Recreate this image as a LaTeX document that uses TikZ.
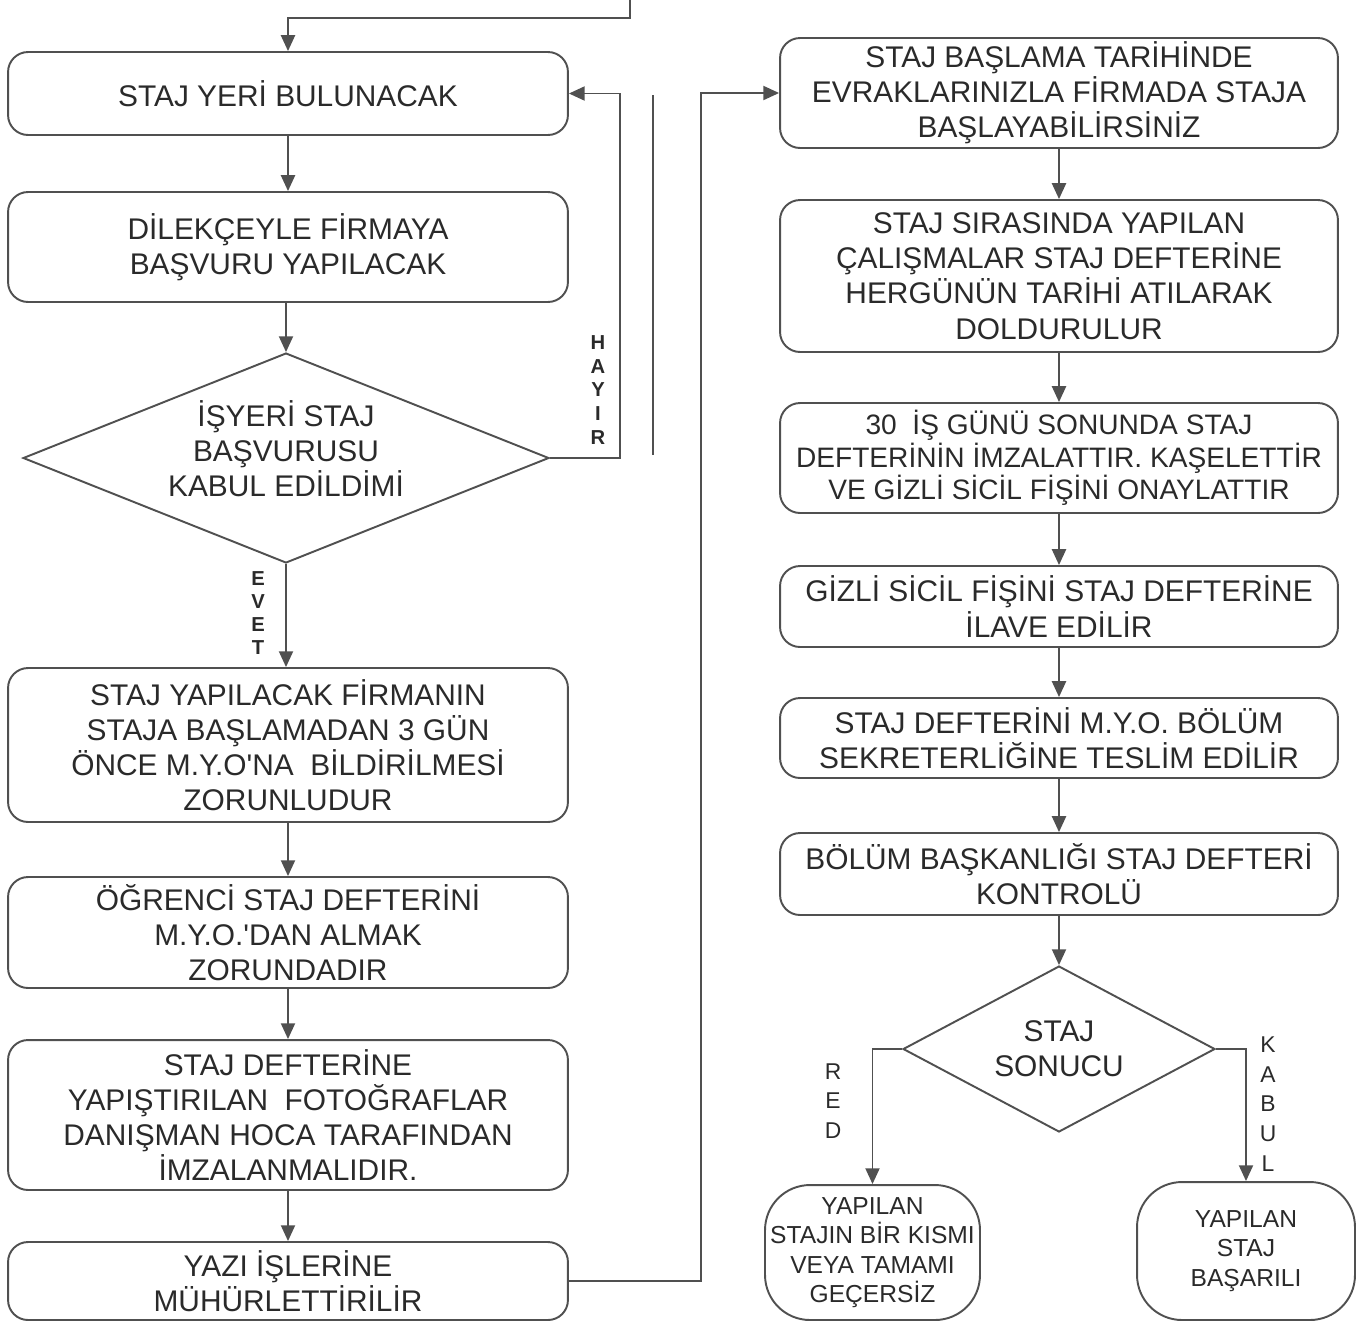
\documentclass[tikz,border=0pt]{standalone}
\usepackage{fontspec}
\setmainfont{Liberation Sans}[Ligatures=TeXOff]
\usetikzlibrary{shapes.geometric,arrows.meta}
\definecolor{linegray}{HTML}{505050}
\definecolor{inkgray}{HTML}{2A2A2A}
\tikzset{
  box/.style={draw=linegray, line width=1.1pt, rounded corners=0.4cm, align=center,
    text=inkgray, inner sep=0pt, font=\fontsize{17}{20}\selectfont},
  endbox/.style={box, rounded corners=0.9cm, font=\fontsize{14}{16.8}\selectfont},
  decision/.style={draw=linegray, line width=1.1pt, shape=diamond, shape aspect=2.5,
    align=center, text=inkgray, inner sep=0pt, font=\fontsize{17}{20}\selectfont},
  dtext/.style={align=center, text=inkgray, inner sep=0pt, font=\fontsize{17}{20}\selectfont},
  arr/.style={draw=linegray, line width=1.1pt, -{Triangle[length=9pt,width=8pt]}},
  ln/.style={draw=linegray, line width=1.1pt},
  vlbl/.style={align=center, text=inkgray, inner sep=0pt}
}
\begin{document}
\begin{tikzpicture}[x=0.02cm,y=-0.02cm]
        \useasboundingbox (0,0) rectangle (1362,1323);
        \coordinate (top)   at (630,0);
        \coordinate (sepA)  at (653,95);
        \coordinate (sepB)  at (653,455);
        % left column
        \node[box, minimum width=11.2cm, minimum height=1.66cm] (yer)     at (288,93.5) {STAJ YERİ BULUNACAK};
        \node[box, minimum width=11.2cm, minimum height=2.2cm]  (dilekce) at (288,247) {DİLEKÇEYLE FİRMAYA\\BAŞVURU YAPILACAK};
        \node[decision, minimum width=10.52cm, minimum height=4.2cm] (kabul) at (286,458) {};
        \node[dtext] (kabulT) at (286,449) {İŞYERİ STAJ\\BAŞVURUSU\\KABUL EDİLDİMİ};
        \node[box, minimum width=11.2cm, minimum height=3.08cm] (bildir)  at (288,745) {STAJ YAPILACAK FİRMANIN\\STAJA BAŞLAMADAN 3 GÜN\\ÖNCE M.Y.O'NA\ \ BİLDİRİLMESİ\\ZORUNLUDUR};
        \node[box, minimum width=11.2cm, minimum height=2.22cm] (defter)  at (288,932.5) {ÖĞRENCİ STAJ DEFTERİNİ\\M.Y.O.'DAN ALMAK\\ZORUNDADIR};
        \node[box, minimum width=11.2cm, minimum height=3.0cm]  (foto)    at (288,1115) {STAJ DEFTERİNE\\YAPIŞTIRILAN\ \ FOTOĞRAFLAR\\DANIŞMAN HOCA TARAFINDAN\\İMZALANMALIDIR.};
        \node[box, minimum width=11.2cm, minimum height=1.56cm] (muhur)   at (288,1281) {YAZI İŞLERİNE\\MÜHÜRLETTİRİLİR};
        % right column
        \node[box, minimum width=11.16cm, minimum height=2.2cm]  (basla)  at (1059,93) {STAJ BAŞLAMA TARİHİNDE\\EVRAKLARINIZLA FİRMADA STAJA\\BAŞLAYABİLİRSİNİZ};
        \node[box, minimum width=11.16cm, minimum height=3.04cm] (calis)  at (1059,276) {STAJ SIRASINDA YAPILAN\\ÇALIŞMALAR STAJ DEFTERİNE\\HERGÜNÜN TARİHİ ATILARAK\\DOLDURULUR};
        \node[box, font=\fontsize{16}{18.5}\selectfont, minimum width=11.16cm, minimum height=2.2cm] (imza) at (1059,458) {30\ \ İŞ GÜNÜ SONUNDA STAJ\\DEFTERİNİN İMZALATTIR. KAŞELETTİR\\VE GİZLİ SİCİL FİŞİNİ ONAYLATTIR};
        \node[box, minimum width=11.16cm, minimum height=1.62cm] (ilave)  at (1059,606.5) {GİZLİ SİCİL FİŞİNİ STAJ DEFTERİNE\\İLAVE EDİLİR};
        \node[box, minimum width=11.16cm, minimum height=1.6cm]  (teslim) at (1059,738) {STAJ DEFTERİNİ M.Y.O. BÖLÜM\\SEKRETERLİĞİNE TESLİM EDİLİR};
        \node[box, minimum width=11.16cm, minimum height=1.64cm] (kontrol) at (1059,874) {BÖLÜM BAŞKANLIĞI STAJ DEFTERİ\\KONTROLÜ};
        \node[decision, shape aspect=1.88, minimum width=6.24cm, minimum height=3.32cm] (sonuc) at (1059,1049) {STAJ\\SONUCU};
        \node[endbox, minimum width=4.3cm, minimum height=2.7cm]  (red)   at (872.5,1252.5) {YAPILAN\\STAJIN BİR KISMI\\VEYA TAMAMI\\GEÇERSİZ};
        \node[endbox, minimum width=4.36cm, minimum height=2.76cm] (basari) at (1246,1251) {YAPILAN\\STAJ\\BAŞARILI};
        % branch letters
        \node[vlbl, font=\fontsize{11.5}{13.5}\selectfont\bfseries] (hayirL) at (598,390) {H\\A\\Y\\I\\R};
        \node[vlbl, font=\fontsize{11.5}{13.2}\selectfont\bfseries] (evetL) at (258,613) {E\\V\\E\\T};
        \node[vlbl, font=\fontsize{13}{17}\selectfont] (redL)   at (833,1101) {R\\E\\D};
        \node[vlbl, font=\fontsize{13}{17}\selectfont] (kabulL) at (1268,1104) {K\\A\\B\\U\\L};
        % connectors
        \draw[arr] (top) -- ++(0,18) -| (yer.north);
        \draw[arr] (yer) -- (dilekce);
        \draw[arr] (dilekce.south -| kabul.north) -- (kabul.north);
        \draw[arr] (kabul.east) -- ++(70,0) |- (yer.east);
        \draw[ln] (sepA) -- (sepB);
        \draw[arr] (kabul.south) -- (kabul.south |- bildir.north);
        \draw[arr] (bildir) -- (defter);
        \draw[arr] (defter) -- (foto);
        \draw[arr] (foto) -- (muhur);
        \draw[arr] (muhur.east) -- ++(132,0) |- (basla.west);
        \draw[arr] (basla) -- (calis);
        \draw[arr] (calis) -- (imza);
        \draw[arr] (imza) -- (ilave);
        \draw[arr] (ilave) -- (teslim);
        \draw[arr] (teslim) -- (kontrol);
        \draw[arr] (kontrol) -- (sonuc);
        \draw[arr] (sonuc.west) -| (red.north);
        \draw[arr] (sonuc.east) -| (basari.north);
    \end{tikzpicture}
\end{document}
